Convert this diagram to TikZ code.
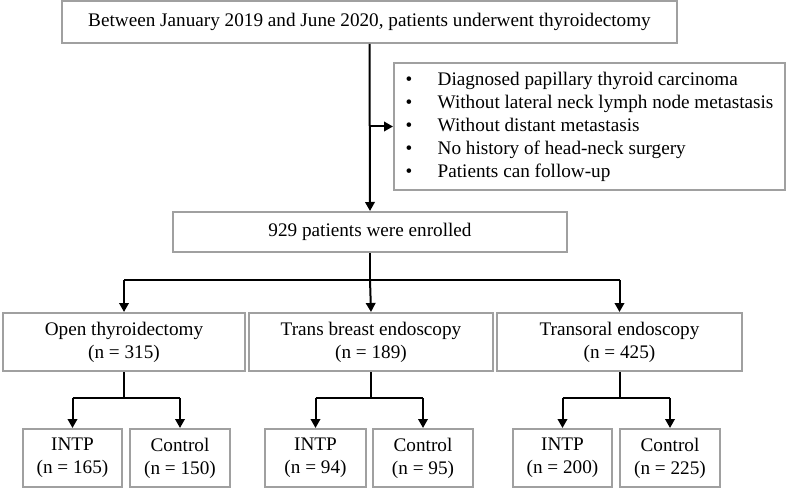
\documentclass[tikz,border=0pt]{standalone}
\usepackage{fontspec}
\setmainfont{Liberation Serif}
\usetikzlibrary{arrows.meta,positioning}

\definecolor{boxgray}{RGB}{160,160,160}
\tikzset{
  box/.style={draw=boxgray,line width=2pt,fill=white,align=center,inner sep=0pt,
    font=\fontsize{19.2}{23}\selectfont},
  line/.style={line width=2pt},
  link/.style={line width=2pt,-{Triangle[length=9pt,width=9.5pt]}}
}
\newcommand{\critem}{\makebox[32pt][l]{\textbullet}}

\begin{document}
\begin{tikzpicture}[x=1pt,y=-1pt]
\path[use as bounding box] (0,0) rectangle (787,489);
% boxes
\node[box,minimum width=615,minimum height=42] (top) at (369.5,22) {Between January 2019 and June 2020, patients underwent thyroidectomy};
\node[box,minimum width=391,minimum height=127,align=left,anchor=west] (crit) at (393,126.5) {%
\critem Diagnosed papillary thyroid carcinoma\\
\critem Without lateral neck lymph node metastasis\\
\critem Without distant metastasis\\
\critem No history of head-neck surgery\\
\critem Patients can follow-up};
\node[box,minimum width=394,minimum height=40] (enrol) at (370,232) {929 patients were enrolled};
\node[box,minimum width=242,minimum height=58] (open) at (124,342) {Open thyroidectomy\\(n = 315)};
\node[box,minimum width=244,minimum height=58] (breast) at (371,342) {Trans breast endoscopy\\(n = 189)};
\node[box,minimum width=245,minimum height=58] (oral) at (619.5,342) {Transoral endoscopy\\(n = 425)};
\node[box,minimum width=99,minimum height=58] (intp1) at (72.5,458) {INTP\\(n = 165)};
\node[box,minimum width=100,minimum height=58] (ctrl1) at (180,458) {Control\\(n = 150)};
\node[box,minimum width=101,minimum height=58] (intp2) at (315.5,458) {INTP\\(n = 94)};
\node[box,minimum width=100,minimum height=58] (ctrl2) at (423,458) {Control\\(n = 95)};
\node[box,minimum width=99,minimum height=58] (intp3) at (562.5,458) {INTP\\(n = 200)};
\node[box,minimum width=100,minimum height=58] (ctrl3) at (670,458) {Control\\(n = 225)};
% junctions
\coordinate (critin) at (top.south |- crit.west);
\coordinate (split) at (enrol.south |- 0,280);
\coordinate[below=26pt of open.south] (split1);
\coordinate[below=26pt of breast.south] (split2);
\coordinate[below=26pt of oral.south] (split3);
% connectors
\draw[link] (top.south) -- (enrol.north);
\draw[link] (critin) -- (crit.west);
\draw[line] (enrol.south) -- (split);
\draw[line] (open.north |- split) -- (oral.north |- split);
\draw[link] (open.north |- split) -- (open.north);
\draw[link] (split) -- (breast.north);
\draw[link] (oral.north |- split) -- (oral.north);
\draw[line] (open.south) -- (split1);
\draw[line] (intp1.north |- split1) -- (ctrl1.north |- split1);
\draw[link] (intp1.north |- split1) -- (intp1.north);
\draw[link] (ctrl1.north |- split1) -- (ctrl1.north);
\draw[line] (breast.south) -- (split2);
\draw[line] (intp2.north |- split2) -- (ctrl2.north |- split2);
\draw[link] (intp2.north |- split2) -- (intp2.north);
\draw[link] (ctrl2.north |- split2) -- (ctrl2.north);
\draw[line] (oral.south) -- (split3);
\draw[line] (intp3.north |- split3) -- (ctrl3.north |- split3);
\draw[link] (intp3.north |- split3) -- (intp3.north);
\draw[link] (ctrl3.north |- split3) -- (ctrl3.north);
\end{tikzpicture}
\end{document}
